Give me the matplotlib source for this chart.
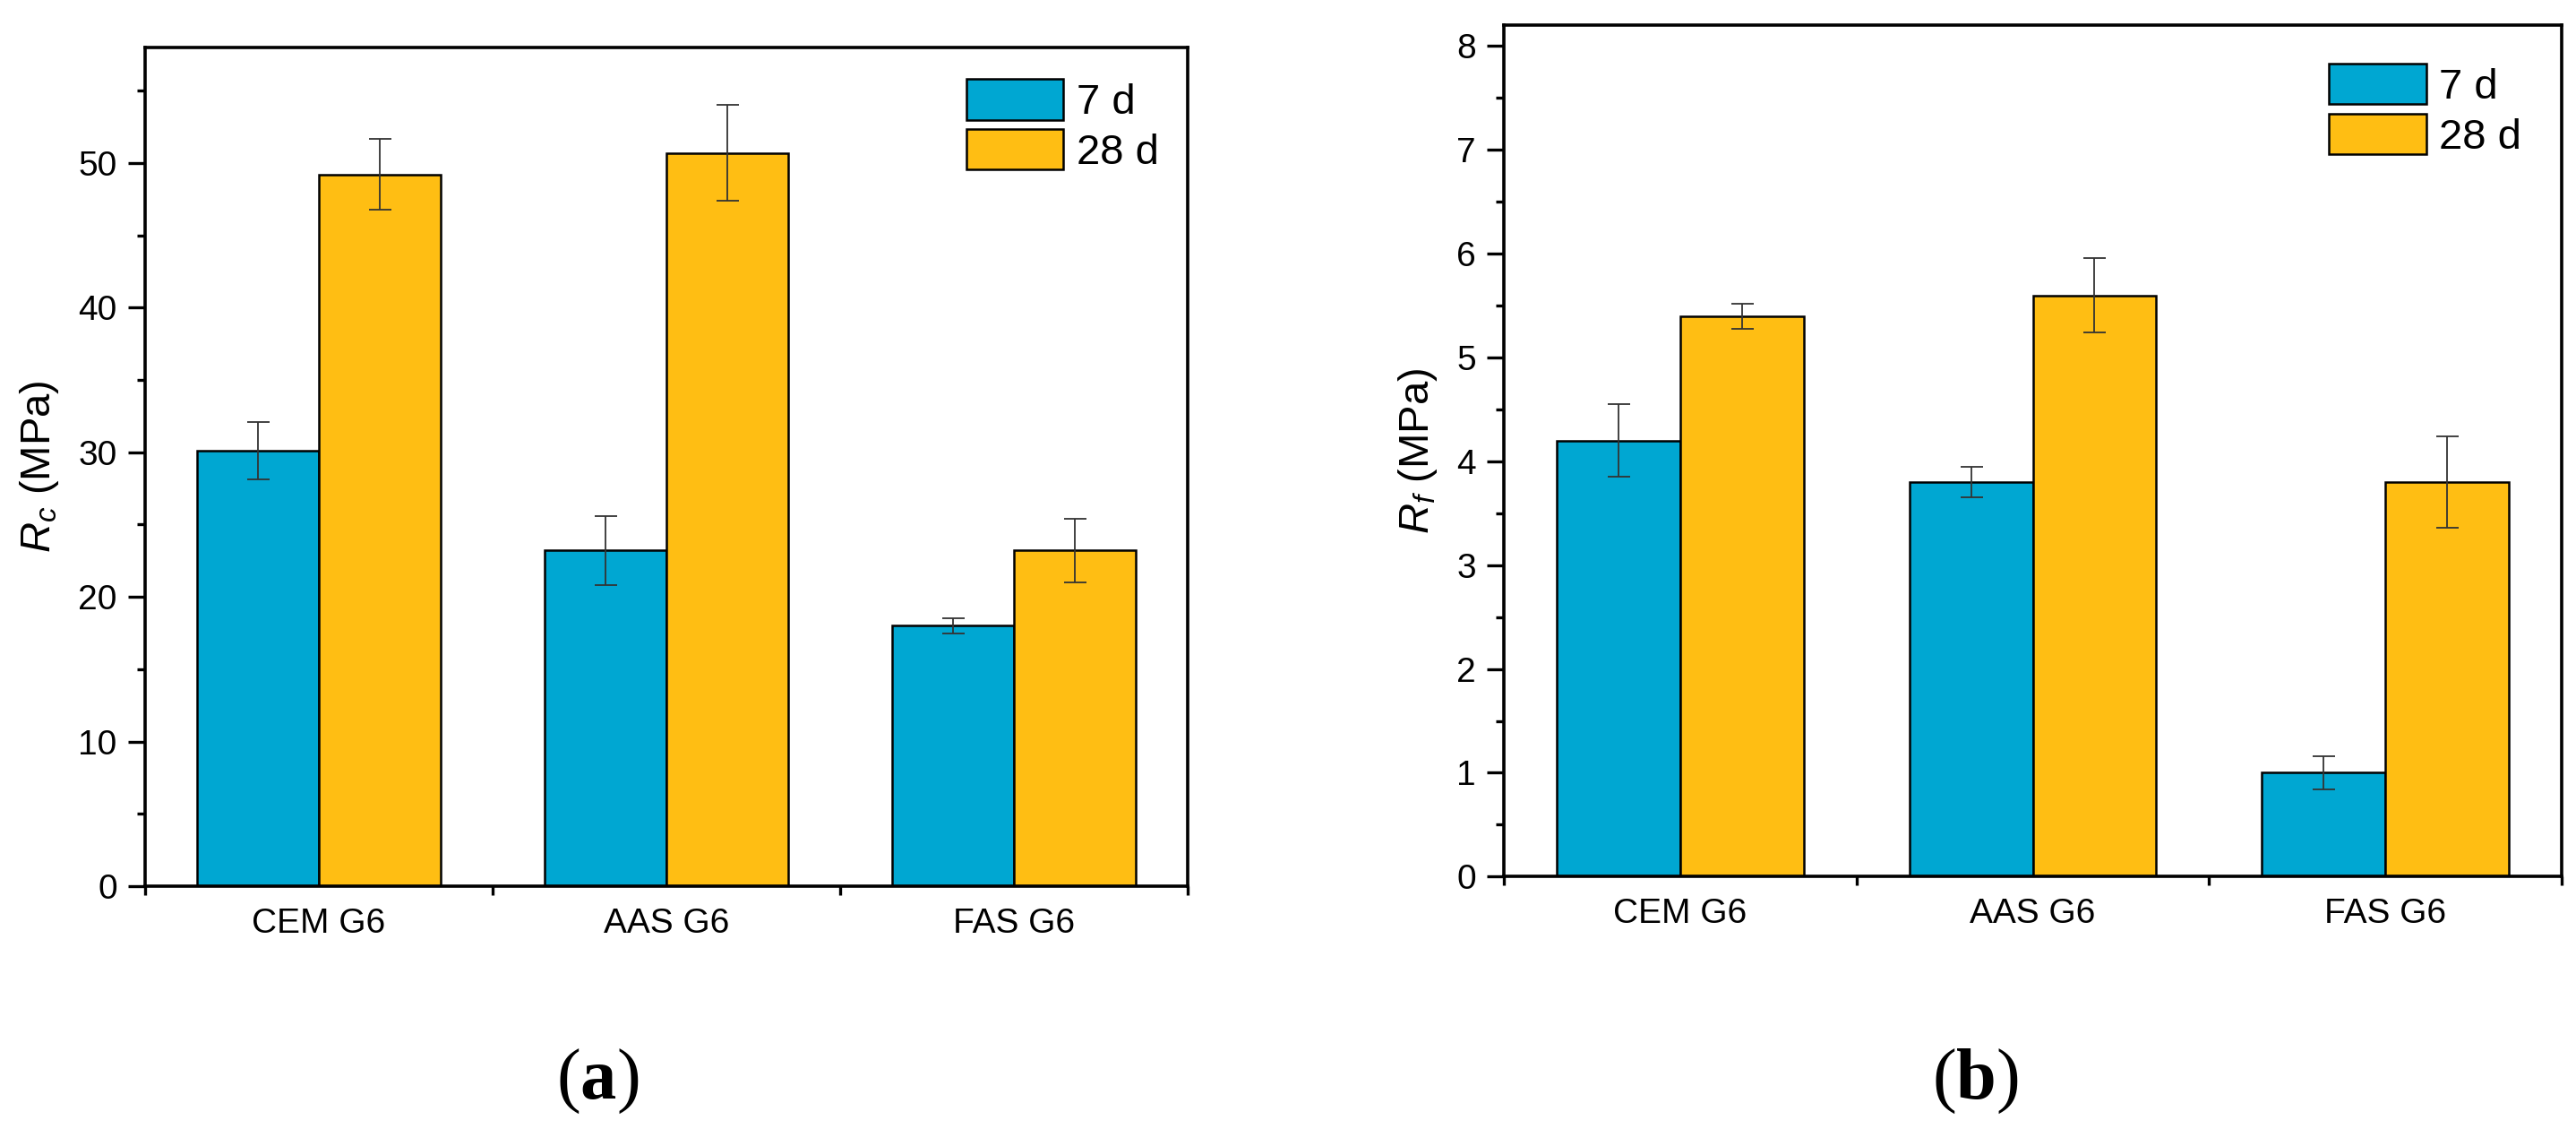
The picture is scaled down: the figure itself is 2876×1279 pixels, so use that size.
import matplotlib
matplotlib.use("Agg")
import matplotlib.pyplot as plt
import numpy as np
from matplotlib.ticker import MultipleLocator, FixedLocator

plt.rcParams['font.family'] = ['Liberation Sans', 'DejaVu Sans']
plt.rcParams['mathtext.fontset'] = 'custom'
plt.rcParams['mathtext.it'] = 'Liberation Sans:italic'
plt.rcParams['mathtext.rm'] = 'Liberation Serif'
plt.rcParams['mathtext.bf'] = 'Liberation Serif:bold'

categories = ["CEM G6", "AAS G6", "FAS G6"]
series = ["7 d", "28 d"]

rc_7d = [30.1, 23.2, 18.0]
rc_7d_err = [2.0, 2.4, 0.55]
rc_28d = [49.2, 50.7, 23.2]
rc_28d_err = [2.45, 3.3, 2.2]

rf_7d = [4.2, 3.8, 1.0]
rf_7d_err = [0.35, 0.15, 0.16]
rf_28d = [5.4, 5.6, 3.8]
rf_28d_err = [0.12, 0.36, 0.44]

panel_labels = ["a", "b"]

col_7 = "#00A7D2"
col_28 = "#FFBE13"

fig = plt.figure(figsize=(28.76, 12.79), dpi=100)
ax1 = fig.add_axes([162/2876, (1279-989)/1279, (1326-162)/2876, (989-52.7)/1279])
ax2 = fig.add_axes([1679/2876, (1279-978.3)/1279, (2860-1679)/2876, (978.3-28.3)/1279])

x = np.arange(1, len(categories) + 1)
w = 0.35

def draw(ax, v7, e7, v28, e28, ylim, major, minor, ylabel, leg_anchor):
    ax.bar(x - w/2, v7, w, color=col_7, edgecolor='black', linewidth=1.8, label=series[0], zorder=2)
    ax.bar(x + w/2, v28, w, color=col_28, edgecolor='black', linewidth=1.8, label=series[1], zorder=2)
    ax.errorbar(x - w/2, v7, yerr=e7, fmt='none', ecolor='#333333', elinewidth=1.3, capsize=9, capthick=1.3, zorder=3)
    ax.errorbar(x + w/2, v28, yerr=e28, fmt='none', ecolor='#333333', elinewidth=1.3, capsize=9, capthick=1.3, zorder=3)
    ax.set_xlim(0.5, len(categories) + 0.5)
    ax.set_ylim(*ylim)
    ax.yaxis.set_major_locator(MultipleLocator(major))
    ax.yaxis.set_minor_locator(MultipleLocator(minor))
    ax.set_xticks(x)
    ax.set_xticklabels(categories)
    ax.xaxis.set_minor_locator(FixedLocator(np.arange(0.5, len(categories) + 1, 1.0)))
    for s in ax.spines.values():
        s.set_linewidth(2.6)
    ax.tick_params(axis='y', which='major', direction='out', length=13.5, width=2.4, labelsize=28, pad=9)
    ax.tick_params(axis='y', which='minor', direction='out', length=6.5, width=2.4)
    ax.tick_params(axis='x', which='major', length=0, labelsize=28, pad=17)
    ax.tick_params(axis='x', which='minor', direction='out', length=7, width=2.4)
    ax.set_ylabel(ylabel, fontsize=34, labelpad=14)
    leg = ax.legend(loc='upper right', bbox_to_anchor=leg_anchor, frameon=False, fontsize=34,
                    handlelength=2.3, handleheight=1.1, handletextpad=0.3, labelspacing=0.15,
                    borderpad=0, borderaxespad=0)
    for p in leg.get_patches():
        p.set_linewidth(1.8)

draw(ax1, rc_7d, rc_7d_err, rc_28d, rc_28d_err, (0, 58), 10, 5, r'$R_c$ (MPa)', (0.972, 0.962))
draw(ax2, rf_7d, rf_7d_err, rf_28d, rf_28d_err, (0, 8.2), 1, 0.5, r'$R_f$ (MPa)', (0.962, 0.955))

for xc, lab in zip([667/2876, 2205/2876], panel_labels):
    fig.text(xc, (1279-1207)/1279, r'$\mathrm{(}\mathbf{' + lab + r'}\mathrm{)}$',
             ha='center', va='center', fontsize=58)

fig.savefig("out.png", dpi=100)
